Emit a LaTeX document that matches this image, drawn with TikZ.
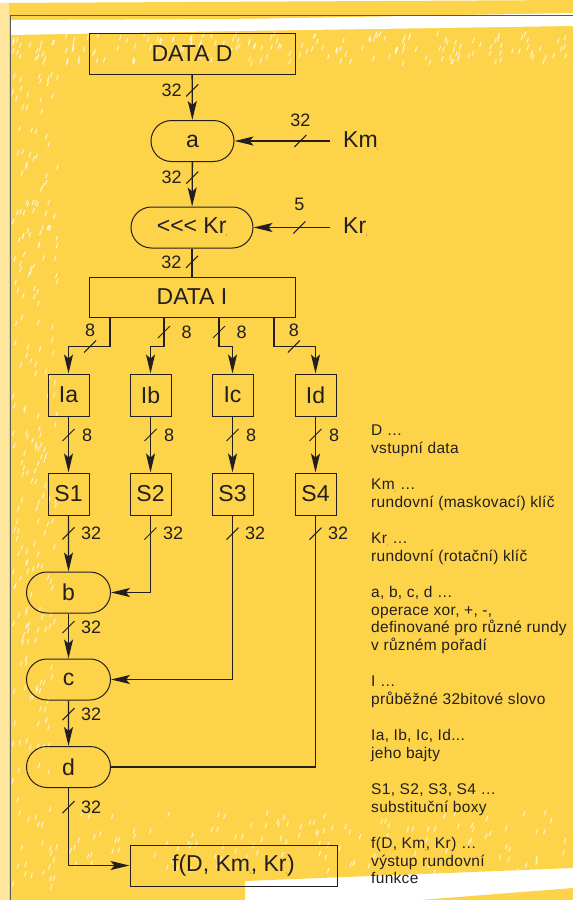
\documentclass[tikz,border=0pt]{standalone}
\usepackage{fontspec}
\setmainfont{Liberation Sans}
\usetikzlibrary{arrows.meta,shapes.misc}
\definecolor{paper}{HTML}{FDD34A}
\definecolor{ink}{HTML}{231F20}
\newcommand{\tinyidx}{{\fontsize{3}{3}\selectfont\raisebox{-3pt}{i}}}
\begin{document}
\begin{tikzpicture}[x=1pt,y=-1pt,
  box/.style={draw=ink,line width=1pt,inner sep=0pt,minimum height=41pt,text=ink,font=\fontsize{23}{27}\selectfont},
  op/.style={box,rounded rectangle},
  flow/.style={draw=ink,line width=1.3pt,-{Stealth[length=19pt,width=9pt,inset=4pt]}},
  wire/.style={draw=ink,line width=1.3pt},
  lbl/.style={text=ink,inner sep=0pt,font=\fontsize{18}{20}\selectfont},
  busmark/.style={ink,line width=1pt}]
  % background
  \useasboundingbox (0,0) rectangle (573,900);
  \fill[white] (0,0) rectangle (573,900);
  \fill[paper] (0,3) -- (573,0) -- (573,868) -- (245,881) -- (245,900) -- (0,900) -- cycle;
  \fill[paper] (420,900) -- (573,888) -- (573,900) -- cycle;
  \fill[white] (10,20) -- (240,19) -- (573,13) -- (573,26) -- (240,31) -- (10,35) -- cycle;
  \fill[paper!55!white] (0,3) rectangle (9,900);
  \pgfmathsetseed{11}
  \foreach \k in {1,...,260}{
    \pgfmathsetmacro\px{12+45*rnd}
    \pgfmathsetmacro\py{40+850*rnd}
    \draw[white,opacity=.7,line width=1.1pt] (\px,\py) -- ++(1.6,-5);
  }
  \foreach \k in {1,...,160}{
    \pgfmathsetmacro\px{60+510*rnd}
    \pgfmathsetmacro\py{36+30*rnd}
    \draw[white,opacity=.7,line width=1.1pt] (\px,\py) -- ++(1.6,-5);
  }
  \foreach \k in {1,...,120}{
    \pgfmathsetmacro\px{60+510*rnd}
    \pgfmathsetmacro\py{815+60*rnd}
    \draw[white,opacity=.7,line width=1.1pt] (\px,\py) -- ++(1.6,-5);
  }
  \draw[gray!70!black,line width=.8pt] (10,900) -- (10,15) -- (573,15);

  % blocks
  \node[box,minimum width=206pt] (dataD) at (192,53.5) {DATA D};
  \node[op,minimum width=83pt] (a) at (192.5,141) {a};
  \node[op,minimum width=122pt] (rot) at (192,227.5) {{<}{<}{<} Kr\tinyidx};
  \node[box,minimum width=206pt,minimum height=40pt] (dataI) at (192,297) {DATA I};
  \node[box,minimum width=41pt,minimum height=42pt] (Ia) at (68.5,395) {Ia};
  \node[box,minimum width=41pt,minimum height=42pt] (Ib) at (150.5,395) {Ib};
  \node[box,minimum width=41pt,minimum height=42pt] (Ic) at (232.5,395) {Ic};
  \node[box,minimum width=41pt,minimum height=42pt] (Id) at (315.5,395) {Id};
  \node[box,minimum width=41pt,minimum height=42pt] (S1) at (68.5,494) {S1};
  \node[box,minimum width=41pt,minimum height=42pt] (S2) at (150.5,494) {S2};
  \node[box,minimum width=41pt,minimum height=42pt] (S3) at (232.5,494) {S3};
  \node[box,minimum width=41pt,minimum height=42pt] (S4) at (315.5,494) {S4};
  \node[op,minimum width=84pt] (b) at (68.5,592.5) {b};
  \node[op,minimum width=84pt] (c) at (68.5,679.5) {c};
  \node[op,minimum width=84pt] (d) at (68.5,767) {d};
  \node[box,minimum width=207pt] (f) at (233.5,865.5) {f(D, Km\tinyidx, Kr\tinyidx)};
  \node[anchor=west,text=ink,inner sep=0pt,font=\fontsize{23}{27}\selectfont] (km) at (343,141) {Km\tinyidx};
  \node[anchor=west,text=ink,inner sep=0pt,font=\fontsize{23}{27}\selectfont] (kr) at (343,227.5) {Kr\tinyidx};

  % connectors
  \draw[flow] (dataD) -- coordinate[pos=.35] (m1) node[lbl,pos=.35,left=10pt] {32} (a);
  \draw[flow] (a) -- coordinate[pos=.35] (m2) node[lbl,pos=.35,left=10pt] {32} (rot);
  \draw[wire] (rot) -- coordinate[pos=.48] (m3) node[lbl,pos=.48,left=10pt] {32} (dataI);
  \draw[flow] ([xshift=-13pt]km.west) -- coordinate[pos=.31] (m4) node[lbl,pos=.31,above=14pt] {32} (a.east);
  \draw[flow] ([xshift=-13pt]kr.west) -- coordinate[pos=.4] (m5) node[lbl,pos=.4,above=16pt] {5} (rot.east);
  \draw[flow] ([xshift=-82pt]dataI.south) -- ++(0,29) -| coordinate[pos=.24] (m6) node[lbl,pos=.24,above=9pt] {8} (Ia);
  \draw[flow] ([xshift=-28pt]dataI.south) -- coordinate[pos=.5] (m7) node[lbl,pos=.5,right=17pt] {8} ++(0,29) -| (Ib);
  \draw[flow] ([xshift=27pt]dataI.south) -- coordinate[pos=.5] (m8) node[lbl,pos=.5,right=17pt] {8} ++(0,29) -| (Ic);
  \draw[flow] ([xshift=82pt]dataI.south) -- ++(0,29) -| coordinate[pos=.24] (m9) node[lbl,pos=.24,above=9pt] {8} (Id);
  \draw[flow] (Ia) -- coordinate[pos=.33] (m10) node[lbl,pos=.33,right=13pt] {8} (S1);
  \draw[flow] (Ib) -- coordinate[pos=.33] (m11) node[lbl,pos=.33,right=13pt] {8} (S2);
  \draw[flow] (Ic) -- coordinate[pos=.33] (m12) node[lbl,pos=.33,right=13pt] {8} (S3);
  \draw[flow] (Id) -- coordinate[pos=.33] (m13) node[lbl,pos=.33,right=13pt] {8} (S4);
  \draw[flow] (S1) -- coordinate[pos=.32] (m14) node[lbl,pos=.32,right=12pt] {32} (b);
  \draw[flow] (S2) |- coordinate[pos=.117] (m15) node[lbl,pos=.117,right=12pt] {32} (b);
  \draw[flow] (S3) |- coordinate[pos=.055] (m16) node[lbl,pos=.055,right=12pt] {32} (c);
  \draw[wire] (S4) |- coordinate[pos=.036] (m17) node[lbl,pos=.036,right=12pt] {32} (d);
  \draw[flow] (b) -- coordinate[pos=.3] (m18) node[lbl,pos=.3,right=12pt] {32} (c);
  \draw[flow] (c) -- coordinate[pos=.3] (m19) node[lbl,pos=.3,right=12pt] {32} (d);
  \draw[flow] (d) |- coordinate[pos=.123] (m20) node[lbl,pos=.123,right=12pt] {32} (f);
  % bus width marks
  \foreach \m in {m1,m2,m3,m4,m5,m6,m7,m8,m9,m10,m11,m12,m13,m14,m15,m16,m17,m18,m19,m20}
    \draw[busmark] ([shift={(-6,6)}]\m) -- ([shift={(6,-6)}]\m);

  % legend
  \node[anchor=north west,align=left,inner sep=0pt,text=ink,font=\fontsize{15.5}{17.5}\selectfont\addfontfeature{LetterSpace=2}] (legend) at (371,425) {%
    D …\\ vstupní data\\[19pt]
    Km\tinyidx{} …\\ rundovní (maskovací) klíč\\[19pt]
    Kr\tinyidx{} …\\ rundovní (rotační) klíč\\[19pt]
    a, b, c, d …\\ operace xor, +, -,\\ definované pro různé rundy\\ v různém pořadí\\[19pt]
    I …\\ průběžné 32bitové slovo\\[19pt]
    Ia, Ib, Ic, Id...\\ jeho bajty\\[19pt]
    S1, S2, S3, S4 …\\ substituční boxy\\[19pt]
    f(D, Km\tinyidx, Kr\tinyidx) …\\ výstup rundovní\\ funkce};
\end{tikzpicture}
\end{document}
